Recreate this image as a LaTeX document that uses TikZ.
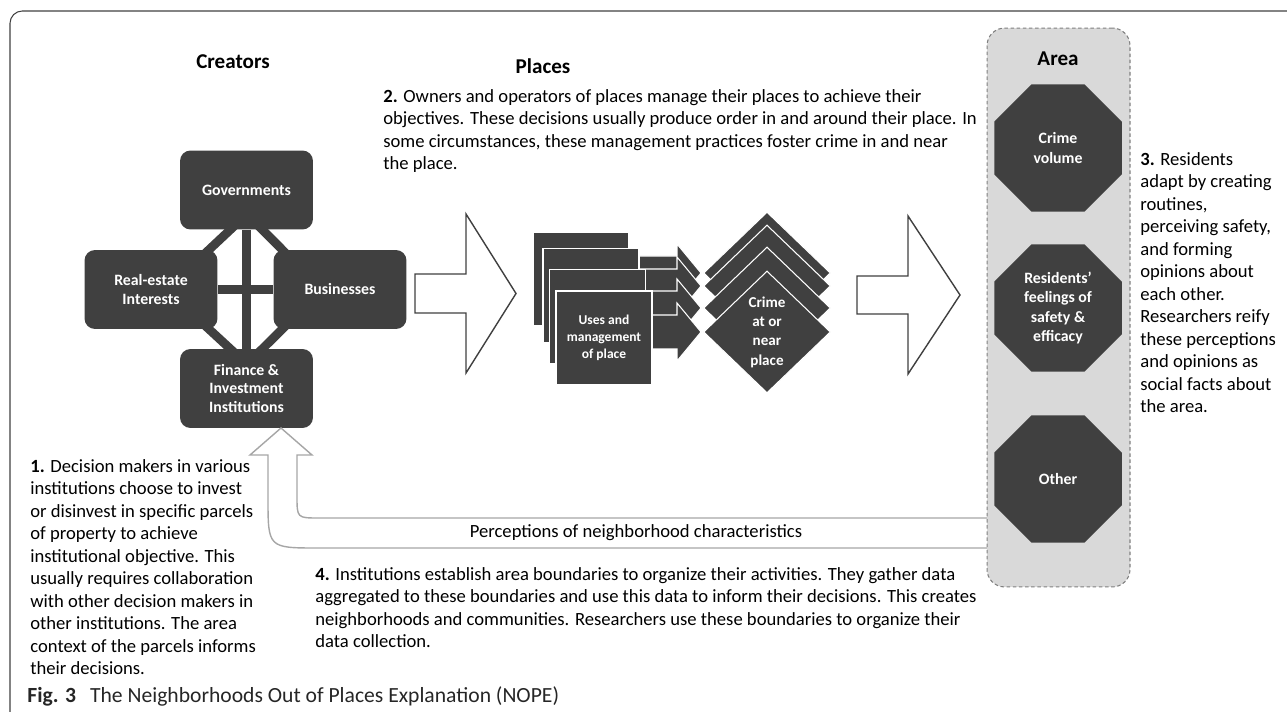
\documentclass[tikz,border=0pt]{standalone}
\usepackage{fontspec}
\setmainfont{Carlito}
\usetikzlibrary{shapes.geometric,calc,backgrounds}
\definecolor{boxgray}{HTML}{404040}
\definecolor{panelgray}{HTML}{D9D9D9}
\definecolor{linegray}{HTML}{A6A6A6}

\begin{document}
\begin{tikzpicture}[x=0.02cm,y=-0.02cm,
  creator/.style={rectangle,rounded corners=6pt,fill=boxgray,text=white,minimum width=2.66cm,minimum height=1.58cm,inner sep=0pt,align=center,font=\bfseries\fontsize{9}{10.8}\selectfont},
  link/.style={draw=boxgray,line width=5pt},
  placebox/.style={rectangle,fill=boxgray,draw=white,line width=0.6pt,minimum width=1.92cm,minimum height=1.88cm,inner sep=0pt,text=white,align=center,font=\bfseries\fontsize{7.7}{9.7}\selectfont},
  crimebox/.style={diamond,fill=boxgray,draw=white,line width=0.6pt,minimum width=2.54cm,minimum height=2.44cm,inner sep=0pt,text=white,align=center,font=\bfseries\fontsize{8.6}{11}\selectfont},
  smallarrow/.style={fill=boxgray,draw=white,line width=0.6pt},
  bigarrow/.style={fill=white,draw=boxgray,line width=0.8pt},
  backarrow/.style={fill=white,draw=linegray,line width=0.8pt},
  panel/.style={rectangle,rounded corners=10pt,fill=panelgray,draw=gray,dash pattern=on 2pt off 1.5pt,line width=0.6pt,minimum width=2.86cm,minimum height=11.18cm},
  octo/.style={regular polygon,regular polygon sides=8,minimum size=2.76cm,fill=boxgray,inner sep=0pt,text=white,align=center,font=\bfseries\fontsize{9}{11}\selectfont},
  heading/.style={font=\bfseries\fontsize{12}{14}\selectfont},
  note/.style={anchor=north west,inner sep=0pt,align=left,font=\fontsize{10.6}{12.8}\selectfont}]
\useasboundingbox (0,0) rectangle (1287,712);
\draw[boxgray,line width=0.6pt,rounded corners=7pt] (10,712) -- (10,11) -- (1287,11);

% creators
\node[heading] (creators) at (233,62) {Creators};
\node[creator] (gov) at (246.5,190) {Governments};
\node[creator] (re) at (151,289.5) {Real-estate\\Interests};
\node[creator] (bus) at (340,289.5) {Businesses};
\node[creator] (fin) at (246.5,388.5) {Finance \&\\Investment\\Institutions};
\begin{scope}[on background layer]
\path (gov) edge[link] (fin);
\path (re) edge[link] (bus);
\path ($(gov.south)+(-11,-5)$) edge[link] ($(re.north east)+(-13,4)$);
\path ($(gov.south)+(11,-5)$) edge[link] ($(bus.north west)+(13,4)$);
\path ($(fin.north)+(-11,5)$) edge[link] ($(re.south east)+(-13,-4)$);
\path ($(fin.north)+(11,5)$) edge[link] ($(bus.south west)+(13,-4)$);
\end{scope}
\node[note] (step1) at (30,459) {\textbf{1.} Decision makers in various\\institutions choose to invest\\or disinvest in specific parcels\\of property to achieve\\institutional objective. This\\usually requires collaboration\\with other decision makers in\\other institutions. The area\\context of the parcels informs\\their decisions.};

% places
\draw[bigarrow] (415,274) -- (466,274) -- (466,214) -- (516,293.5) -- (466,373) -- (466,313) -- (415,313) -- cycle;
\node[heading] (places) at (543,66) {Places};
\node[note] (step2) at (383,89) {\textbf{2.} Owners and operators of places manage their places to achieve their\\objectives. These decisions usually produce order in and around their place. In\\some circumstances, these management practices foster crime in and near\\the place.};
\draw[smallarrow] (620,256) -- (677,256) -- (677,244) -- (701,273) -- (677,302) -- (677,290) -- (620,290) -- cycle;
\draw[smallarrow] (620,269) -- (677,269) -- (677,257) -- (701,286) -- (677,315) -- (677,303) -- (620,303) -- cycle;
\draw[smallarrow] (620,291) -- (677,291) -- (677,279) -- (701,308) -- (677,337) -- (677,325) -- (620,325) -- cycle;
\draw[smallarrow] (620,315) -- (677,315) -- (677,303) -- (701,332) -- (677,361) -- (677,349) -- (620,349) -- cycle;
\node[placebox] (sq1) at (581,279) {};
\node[placebox] (sq2) at (591,295.5) {};
\node[placebox] (sq3) at (597.5,316.5) {};
\node[placebox] (uses) at (604,338) {Uses and\\management\\of place};
\node[crimebox] (cr1) at (767,273) {};
\node[crimebox] (cr2) at (767,286) {};
\node[crimebox] (cr3) at (767,308) {};
\node[crimebox] (crime) at (767,332) {Crime\\at or\\near\\place};
\draw[bigarrow] (857,276) -- (908,276) -- (908,216) -- (960,295) -- (908,374) -- (908,314) -- (857,314) -- cycle;

% feedback
\draw[backarrow] (995,518) -- (319,518) .. controls (297,518) .. (297,496) -- (297,455) -- (312,455) -- (281,428) -- (250,455) -- (268,455) -- (268,498) .. controls (268,548) .. (318,548) -- (995,548) -- cycle;
\node[font=\fontsize{10.6}{12.8}\selectfont] (perc) at (636,533) {Perceptions of neighborhood characteristics};
\node[note] (step4) at (315,567) {\textbf{4.} Institutions establish area boundaries to organize their activities. They gather data\\aggregated to these boundaries and use this data to inform their decisions. This creates\\neighborhoods and communities. Researchers use these boundaries to organize their\\data collection.};

% area
\node[panel] (area) at (1058.5,307.5) {};
\node[heading] (areatitle) at (1058,59) {Area};
\node[octo] (vol) at (1058,148) {Crime\\volume};
\node[octo] (feel) at (1058,308) {Residents’\\feelings of\\safety \&\\efficacy};
\node[octo] (other) at (1058,479) {Other};
\node[note] (step3) at (1140,152) {\textbf{3.} Residents\\adapt by creating\\routines,\\perceiving safety,\\and forming\\opinions about\\each other.\\Researchers reify\\these perceptions\\and opinions as\\social facts about\\the area.};

\node[anchor=west,inner sep=0pt,font=\fontsize{12.3}{14}\selectfont,text=black!85] (caption) at (27,696) {\textbf{Fig. 3}\hspace{8pt}The Neighborhoods Out of Places Explanation (NOPE)};
\end{tikzpicture}
\end{document}
